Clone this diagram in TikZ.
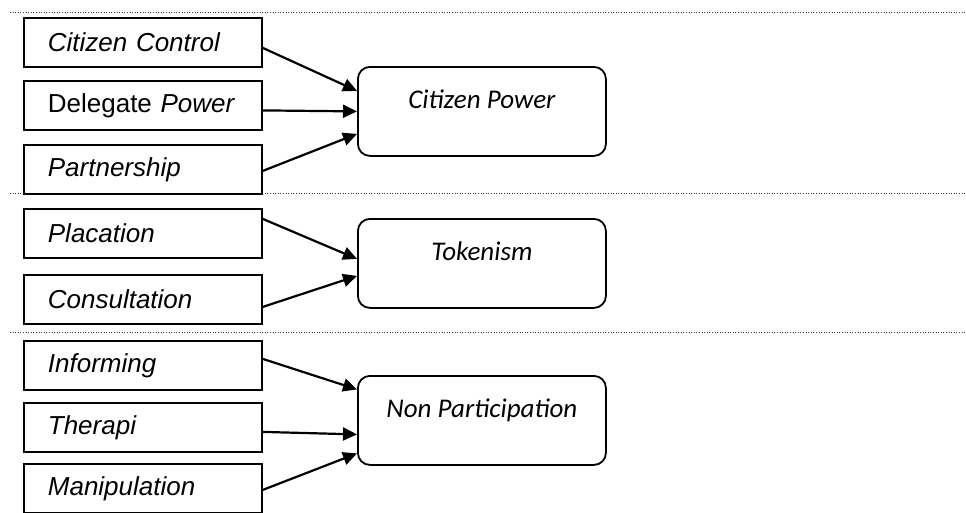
\documentclass[tikz,border=0pt]{standalone}
\usepackage{fontspec}
\setmainfont{Liberation Sans}
\newfontfamily\calib{Carlito}
\usetikzlibrary{arrows.meta}

\tikzset{
  levelbox/.style={draw, line width=1.8pt, anchor=north west,
    minimum width=238pt, minimum height=49pt, inner xsep=24pt,
    text width=190pt, align=left, font=\fontsize{26}{30}\selectfont},
  groupbox/.style={draw, line width=1.8pt, rounded corners=12pt, anchor=north west,
    minimum width=248pt, minimum height=89pt},
  grouplabel/.style={label distance=0pt,
    label={[anchor=base, yshift=-42pt, font=\calib\itshape\fontsize{27}{30}\selectfont]north:#1}},
  arr/.style={line width=2.2pt, -{Triangle[length=14pt,width=13pt]}},
  divider/.style={line width=1pt, black!80, dash pattern=on 1pt off 1.6pt},
}

\begin{document}
\begin{tikzpicture}[x=1pt, y=-1pt]
\useasboundingbox (0,0) rectangle (966,512);

% section dividers
\draw[divider] (10,12) -- (966,12);
\draw[divider] (10,193) -- (966,193);
\draw[divider] (10,332) -- (966,332);

% rungs of the ladder
\node[levelbox] (cc)  at (23,17)  {\itshape Citizen Control};
\node[levelbox] (dp)  at (23,80)  {Delegate \textit{Power}};
\node[levelbox] (pa)  at (23,144) {\itshape Partnership};
\node[levelbox] (pl)  at (23,208) {\itshape Placation};
\node[levelbox] (co)  at (23,274) {\itshape Consultation};
\node[levelbox] (inf) at (23,340) {\itshape Informing};
\node[levelbox] (th)  at (23,402) {\itshape Therapi};
\node[levelbox] (ma)  at (23,463) {\itshape Manipulation};

% groups
\node[groupbox, grouplabel={Citizen Power}]     (cp) at (357,66)  {};
\node[groupbox, grouplabel={Tokenism}]          (tk) at (357,218) {};
\node[groupbox, grouplabel={Non Participation}] (np) at (357,375) {};

% connectors
\draw[arr] ([yshift=-5.5pt]cc.east) -- ([yshift=20.5pt]cp.west);
\draw[arr] ([yshift=-5pt]dp.east)   -- ([yshift=0pt]cp.west);
\draw[arr] ([yshift=-1.5pt]pa.east) -- ([yshift=-22.5pt]cp.west);

\draw[arr] ([yshift=14.5pt]pl.east) -- ([yshift=4.5pt]tk.west);
\draw[arr] ([yshift=-7.5pt]co.east) -- ([yshift=-12.5pt]tk.west);

\draw[arr] ([yshift=6.5pt]inf.east) -- ([yshift=31pt]np.west);
\draw[arr] ([yshift=-4.5pt]th.east) -- ([yshift=-14pt]np.west);
\draw[arr] ([yshift=-1.5pt]ma.east) -- ([yshift=-33pt]np.west);
\end{tikzpicture}
\end{document}
